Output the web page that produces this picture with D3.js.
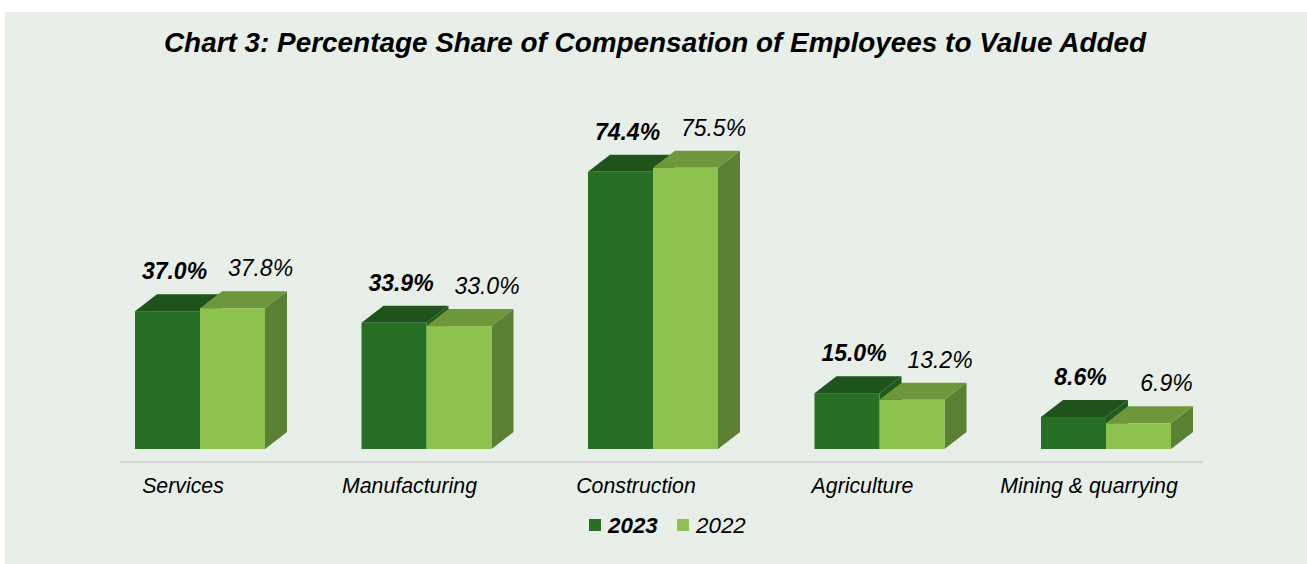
<!DOCTYPE html>
<html>
<head>
<meta charset="utf-8">
<script src="https://cdn.jsdelivr.net/npm/d3@7"></script>
<style>
  body { margin: 0; background: #fff; }
  text { font-family: Arial, "Liberation Sans", sans-serif; }
</style>
</head>
<body>
<div id="chart"></div>
<script>
var w = 1307, h = 564;

var categories = ['Services', 'Manufacturing', 'Construction', 'Agriculture', 'Mining & quarrying'];
var series = ['2023', '2022'];
var values2023 = [37.0, 33.9, 74.4, 15.0, 8.6];
var values2022 = [37.8, 33.0, 75.5, 13.2, 6.9];
var labels2023 = ['37.0%', '33.9%', '74.4%', '15.0%', '8.6%'];
var labels2022 = ['37.8%', '33.0%', '75.5%', '13.2%', '6.9%'];

var colors = {
  '2023': {front: '#286f26', top: '#1e531c', side: '#1f5a1d'},
  '2022': {front: '#8dc24e', top: '#6e963b', side: '#5b7f33'}
};

// 3d depth offsets
var dx = 22, dy = 17;

var x = d3.scaleBand()
  .domain(categories)
  .range([135, 1171])
  .paddingInner(0.426)
  .paddingOuter(0);

var x1 = d3.scaleBand()
  .domain(series)
  .range([0, x.bandwidth()]);

var y = d3.scaleLinear()
  .domain([0, 80])
  .range([449, 151]);

var svg = d3.select('#chart')
  .append('svg')
    .attr('width', w)
    .attr('height', h);

svg.append('rect')
  .attr('x', 5)
  .attr('y', 12)
  .attr('width', w - 5)
  .attr('height', h - 12)
  .attr('fill', '#e8efe9');

svg.append('text')
  .attr('x', 655)
  .attr('y', 52)
  .attr('text-anchor', 'middle')
  .style('font-size', '27.9px')
  .style('font-weight', 'bold')
  .style('font-style', 'italic')
  .text('Chart 3: Percentage Share of Compensation of Employees to Value Added');

// floor line
svg.append('line')
  .attr('x1', 120)
  .attr('x2', 1203)
  .attr('y1', 462)
  .attr('y2', 462)
  .attr('stroke', '#d5dad6')
  .attr('stroke-width', 2.5);

var dataset = categories.map(function(c, i) {
  return {cat: c, vals: [
    {s: '2023', v: values2023[i], label: labels2023[i]},
    {s: '2022', v: values2022[i], label: labels2022[i]}
  ]};
});

var group = svg.selectAll('.group')
  .data(dataset)
  .enter().append('g')
    .attr('class', 'group')
    .attr('transform', function(d) { return 'translate(' + [x(d.cat), 0] + ')'; });

var bar = group.selectAll('.bar')
  .data(function(d) { return d.vals; })
  .enter().append('g')
    .attr('class', 'bar');

bar.each(function(d) {
  var g = d3.select(this);
  var x0 = x1(d.s), bw = x1.bandwidth();
  var yt = y(d.v), yb = y(0);
  var c = colors[d.s];
  g.append('path')
    .attr('d', 'M' + [x0 + bw, yt] + 'L' + [x0 + bw + dx, yt - dy] + 'L' + [x0 + bw + dx, yb - dy] + 'L' + [x0 + bw, yb] + 'Z')
    .attr('fill', c.side);
  g.append('path')
    .attr('d', 'M' + [x0, yt] + 'L' + [x0 + dx, yt - dy] + 'L' + [x0 + bw + dx, yt - dy] + 'L' + [x0 + bw, yt] + 'Z')
    .attr('fill', c.top);
  g.append('rect')
    .attr('x', x0)
    .attr('y', yt)
    .attr('width', bw)
    .attr('height', yb - yt)
    .attr('fill', c.front);
});

bar.append('text')
  .attr('x', function(d) { return x1(d.s) + x1.bandwidth() / 2 + (d.s === '2023' ? 7 : 28); })
  .attr('y', function(d) { return y(d.v) - dy - 15; })
  .attr('text-anchor', 'middle')
  .style('font-size', '23px')
  .style('font-style', 'italic')
  .style('font-weight', function(d) { return d.s === '2023' ? 'bold' : 'normal'; })
  .text(function(d) { return d.label; });

svg.selectAll('.cat')
  .data(categories)
  .enter().append('text')
    .attr('class', 'cat')
    .attr('x', function(d) { return x(d) + x.bandwidth() / 2 - 17; })
    .attr('y', 493)
    .attr('text-anchor', 'middle')
    .style('font-size', '21.3px')
    .style('font-style', 'italic')
    .text(function(d) { return d; });

// legend
var legend = svg.append('g').attr('class', 'legend');
var legX = [589, 677];
series.forEach(function(s, i) {
  legend.append('rect')
    .attr('x', legX[i])
    .attr('y', 519)
    .attr('width', 12)
    .attr('height', 12)
    .attr('fill', colors[s].front);
  legend.append('text')
    .attr('x', legX[i] + 19)
    .attr('y', 533)
    .style('font-size', '22.4px')
    .style('font-style', 'italic')
    .style('font-weight', i === 0 ? 'bold' : 'normal')
    .text(s);
});
</script>
</body>
</html>
